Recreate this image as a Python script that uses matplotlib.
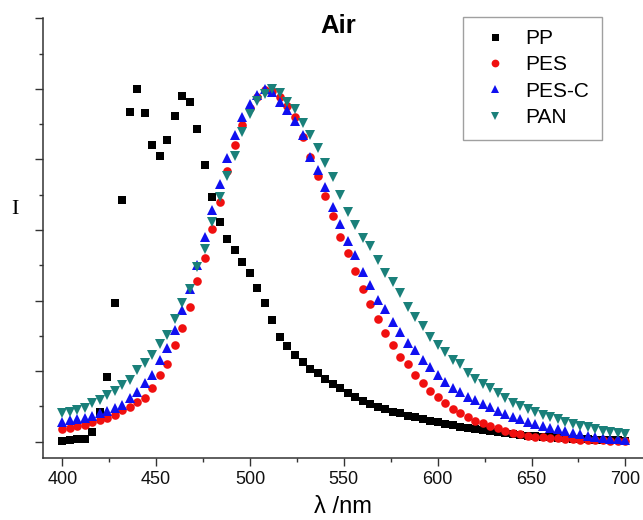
import matplotlib
matplotlib.use('Agg')
import matplotlib.pyplot as plt
import numpy as np
from matplotlib.ticker import MultipleLocator

### Data (normalised intensity, 4 nm steps)

wavelength = np.arange(400, 701, 4)

pp = [0.003, 0.005, 0.007, 0.008, 0.028, 0.085, 0.182, 0.394, 0.685, 0.934,
      1.000, 0.932, 0.840, 0.811, 0.855, 0.922, 0.979, 0.962, 0.887, 0.783,
      0.693, 0.622, 0.574, 0.544, 0.510, 0.478, 0.437, 0.393, 0.346, 0.297,
      0.272, 0.245, 0.226, 0.206, 0.194, 0.177, 0.163, 0.153, 0.139, 0.127,
      0.115, 0.107, 0.099, 0.092, 0.085, 0.080, 0.074, 0.069, 0.064, 0.059,
      0.057, 0.051, 0.046, 0.042, 0.039, 0.036, 0.033, 0.030, 0.027, 0.024,
      0.022, 0.019, 0.017, 0.015, 0.014, 0.012, 0.011, 0.010, 0.009, 0.008,
      0.007, 0.006, 0.005, 0.004, 0.004, 0.003]

pes = [0.036, 0.039, 0.044, 0.048, 0.055, 0.061, 0.066, 0.075, 0.090, 0.099,
       0.113, 0.125, 0.153, 0.189, 0.220, 0.274, 0.323, 0.382, 0.455, 0.522,
       0.603, 0.679, 0.768, 0.842, 0.898, 0.945, 0.978, 0.996, 0.995, 0.978,
       0.952, 0.920, 0.864, 0.808, 0.753, 0.695, 0.640, 0.580, 0.534, 0.484,
       0.434, 0.389, 0.349, 0.307, 0.274, 0.241, 0.219, 0.189, 0.165, 0.143,
       0.127, 0.110, 0.092, 0.080, 0.069, 0.059, 0.052, 0.044, 0.038, 0.030,
       0.025, 0.021, 0.017, 0.014, 0.012, 0.011, 0.010, 0.008, 0.007, 0.006,
       0.005, 0.004, 0.004, 0.003, 0.002, 0.002]

pes_c = [0.057, 0.061, 0.063, 0.068, 0.074, 0.082, 0.088, 0.095, 0.103, 0.123,
         0.142, 0.165, 0.189, 0.233, 0.266, 0.316, 0.373, 0.434, 0.502, 0.580,
         0.656, 0.731, 0.805, 0.868, 0.920, 0.956, 0.983, 1.000, 0.990, 0.964,
         0.939, 0.910, 0.869, 0.808, 0.769, 0.722, 0.665, 0.618, 0.569, 0.528,
         0.481, 0.443, 0.403, 0.375, 0.340, 0.311, 0.280, 0.259, 0.233, 0.212,
         0.190, 0.170, 0.151, 0.142, 0.127, 0.118, 0.107, 0.097, 0.088, 0.078,
         0.069, 0.063, 0.057, 0.050, 0.044, 0.040, 0.035, 0.030, 0.025, 0.021,
         0.017, 0.014, 0.011, 0.008, 0.007, 0.005]

pan = [0.080, 0.085, 0.090, 0.095, 0.109, 0.118, 0.132, 0.144, 0.160, 0.175,
       0.203, 0.222, 0.245, 0.278, 0.302, 0.349, 0.392, 0.434, 0.495, 0.547,
       0.623, 0.693, 0.752, 0.811, 0.877, 0.929, 0.965, 0.986, 1.000, 0.988,
       0.964, 0.943, 0.903, 0.868, 0.833, 0.789, 0.750, 0.698, 0.652, 0.613,
       0.577, 0.554, 0.514, 0.479, 0.453, 0.422, 0.382, 0.354, 0.327, 0.297,
       0.275, 0.254, 0.233, 0.220, 0.195, 0.177, 0.163, 0.151, 0.137, 0.123,
       0.109, 0.101, 0.092, 0.083, 0.076, 0.069, 0.063, 0.057, 0.050, 0.045,
       0.041, 0.036, 0.031, 0.027, 0.024, 0.021]

series_names = ['PP', 'PES', 'PES-C', 'PAN']
series_values = [pp, pes, pes_c, pan]
x_ticks = [400, 450, 500, 550, 600, 650, 700]

### Plot

plt.rcParams['font.family'] = ['Liberation Sans', 'DejaVu Sans']

markers = ['s', 'o', '^', 'v']
sizes = [5.6, 6.2, 6.6, 6.6]
colors = ['black', '#f01010', '#1010f0', '#1a807a']

fig = plt.figure(figsize=(6.43, 5.20), dpi=100)
ax = fig.add_axes([43.3/643, 1 - 458.3/520, 1 - 43.3/643, (458.3 - 18.3)/520])

for name, values, m, ms, c in zip(series_names, series_values, markers, sizes, colors):
    ax.plot(wavelength, values, linestyle='none', marker=m, markersize=ms,
            color=c, markeredgewidth=0, label=name)

ax.set_xlim(389.9, 709.4)
ax.set_ylim(-0.047, 1.2)
ax.set_xticks(x_ticks)
ax.xaxis.set_minor_locator(MultipleLocator(25))
ax.yaxis.set_major_locator(MultipleLocator(0.2))
ax.yaxis.set_minor_locator(MultipleLocator(0.1))
ax.set_yticklabels([])

for side in ['top', 'right']:
    ax.spines[side].set_visible(False)
for side in ['left', 'bottom']:
    ax.spines[side].set_linewidth(1.1)
    ax.spines[side].set_color('#333333')

ax.tick_params(which='major', direction='out', length=6, width=1.0, colors='#333333',
               labelsize=13, pad=3, labelcolor='#111111')
ax.tick_params(which='minor', direction='out', length=3, width=1.0, colors='#333333')

ax.set_xlabel('λ /nm', fontsize=17, labelpad=6)
ax.set_ylabel('I', fontsize=16, family=['Liberation Serif'], rotation=0, labelpad=14)
ax.yaxis.set_label_coords(-0.048, 0.545)

fig.text(338/643, 1 - 26/520, 'Air', fontsize=18.5, fontweight='bold',
         ha='center', va='center')

leg = ax.legend(loc='upper left', bbox_to_anchor=(463/643, 1 - 16.7/520),
                bbox_transform=fig.transFigure, fontsize=15, frameon=True,
                fancybox=False, borderpad=0.6, handlelength=1.9, handletextpad=0.5,
                labelspacing=0.35, borderaxespad=0, numpoints=1, markerscale=0.9)
leg.get_frame().set_edgecolor('#888888')
leg.get_frame().set_linewidth(1.0)

plt.savefig('out.png', dpi=100)
